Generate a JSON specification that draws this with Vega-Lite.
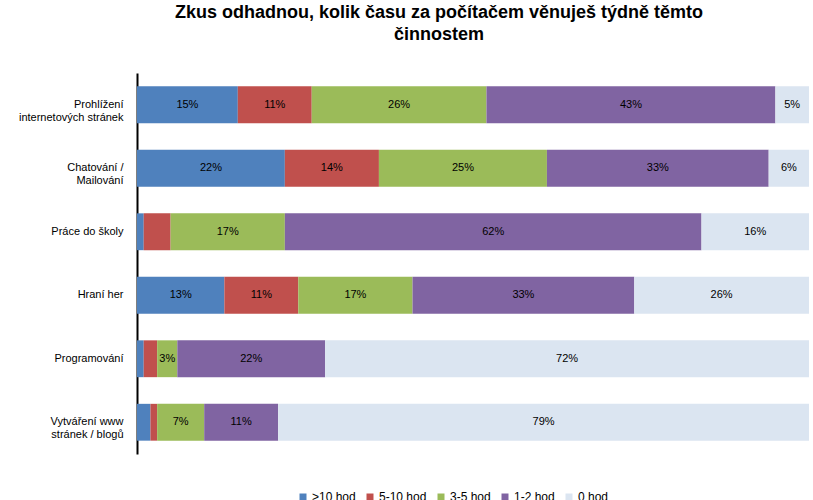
{
  "$schema": "https://vega.github.io/schema/vega-lite/v6.json",
  "width": 672,
  "height": 381,
  "autosize": "none",
  "padding": {"left": 137, "top": 73, "right": 4, "bottom": 46},
  "background": "white",
  "title": {
    "text": ["Zkus odhadnou, kolik času za počítačem věnuješ týdně těmto", "činnostem"],
    "font": "Liberation Sans",
    "fontSize": 18,
    "fontWeight": "bold",
    "color": "black",
    "anchor": "middle",
    "frame": "group",
    "dx": -34,
    "offset": 29,
    "lineHeight": 22
  },
  "data": {
    "values": [
      {"cat": "Prohlížení|internetových stránek", "k": 1, "series": ">10 hod", "value": 15, "label": "15%"},
      {"cat": "Prohlížení|internetových stránek", "k": 2, "series": "5-10 hod", "value": 11, "label": "11%"},
      {"cat": "Prohlížení|internetových stránek", "k": 3, "series": "3-5 hod", "value": 26, "label": "26%"},
      {"cat": "Prohlížení|internetových stránek", "k": 4, "series": "1-2 hod", "value": 43, "label": "43%"},
      {"cat": "Prohlížení|internetových stránek", "k": 5, "series": "0 hod", "value": 5, "label": "5%"},
      {"cat": "Chatování /|Mailování", "k": 1, "series": ">10 hod", "value": 22, "label": "22%"},
      {"cat": "Chatování /|Mailování", "k": 2, "series": "5-10 hod", "value": 14, "label": "14%"},
      {"cat": "Chatování /|Mailování", "k": 3, "series": "3-5 hod", "value": 25, "label": "25%"},
      {"cat": "Chatování /|Mailování", "k": 4, "series": "1-2 hod", "value": 33, "label": "33%"},
      {"cat": "Chatování /|Mailování", "k": 5, "series": "0 hod", "value": 6, "label": "6%"},
      {"cat": "Práce do školy", "k": 1, "series": ">10 hod", "value": 1, "label": ""},
      {"cat": "Práce do školy", "k": 2, "series": "5-10 hod", "value": 4, "label": ""},
      {"cat": "Práce do školy", "k": 3, "series": "3-5 hod", "value": 17, "label": "17%"},
      {"cat": "Práce do školy", "k": 4, "series": "1-2 hod", "value": 62, "label": "62%"},
      {"cat": "Práce do školy", "k": 5, "series": "0 hod", "value": 16, "label": "16%"},
      {"cat": "Hraní her", "k": 1, "series": ">10 hod", "value": 13, "label": "13%"},
      {"cat": "Hraní her", "k": 2, "series": "5-10 hod", "value": 11, "label": "11%"},
      {"cat": "Hraní her", "k": 3, "series": "3-5 hod", "value": 17, "label": "17%"},
      {"cat": "Hraní her", "k": 4, "series": "1-2 hod", "value": 33, "label": "33%"},
      {"cat": "Hraní her", "k": 5, "series": "0 hod", "value": 26, "label": "26%"},
      {"cat": "Programování", "k": 1, "series": ">10 hod", "value": 1, "label": ""},
      {"cat": "Programování", "k": 2, "series": "5-10 hod", "value": 2, "label": ""},
      {"cat": "Programování", "k": 3, "series": "3-5 hod", "value": 3, "label": "3%"},
      {"cat": "Programování", "k": 4, "series": "1-2 hod", "value": 22, "label": "22%"},
      {"cat": "Programování", "k": 5, "series": "0 hod", "value": 72, "label": "72%"},
      {"cat": "Vytváření www|stránek / blogů", "k": 1, "series": ">10 hod", "value": 2, "label": ""},
      {"cat": "Vytváření www|stránek / blogů", "k": 2, "series": "5-10 hod", "value": 1, "label": ""},
      {"cat": "Vytváření www|stránek / blogů", "k": 3, "series": "3-5 hod", "value": 7, "label": "7%"},
      {"cat": "Vytváření www|stránek / blogů", "k": 4, "series": "1-2 hod", "value": 11, "label": "11%"},
      {"cat": "Vytváření www|stránek / blogů", "k": 5, "series": "0 hod", "value": 79, "label": "79%"}
    ]
  },
  "encoding": {
    "y": {
      "field": "cat",
      "type": "nominal",
      "sort": null,
      "scale": {"paddingInner": 0.42, "paddingOuter": 0.21},
      "axis": {
        "title": null,
        "labelExpr": "split(datum.label, '|')",
        "labelFont": "Liberation Sans",
        "labelFontSize": 11,
        "labelColor": "black",
        "labelPadding": 14,
        "labelLineHeight": 13,
        "ticks": false,
        "domainColor": "black",
        "domainWidth": 2,
        "grid": false
      }
    },
    "x": {
      "field": "value",
      "type": "quantitative",
      "stack": "normalize",
      "axis": null,
      "scale": {"domain": [0, 1], "nice": false}
    },
    "order": {"field": "k", "type": "quantitative"}
  },
  "layer": [
    {
      "mark": {"type": "bar"},
      "encoding": {
        "color": {
          "field": "series",
          "type": "nominal",
          "sort": [">10 hod", "5-10 hod", "3-5 hod", "1-2 hod", "0 hod"],
          "scale": {
            "domain": [">10 hod", "5-10 hod", "3-5 hod", "1-2 hod", "0 hod"],
            "range": ["#4F81BD", "#C0504D", "#9BBB59", "#8064A2", "#DBE5F1"]
          },
          "legend": {
            "title": null,
            "orient": "none",
            "direction": "horizontal",
            "legendX": 160,
            "legendY": 418,
            "symbolType": "square",
            "symbolSize": 49,
            "symbolStrokeWidth": 0,
            "labelFont": "Liberation Sans",
            "labelFontSize": 12,
            "labelColor": "black",
            "labelOffset": 3,
            "columnPadding": 8
          }
        }
      }
    },
    {
      "mark": {"type": "text", "font": "Liberation Sans", "fontSize": 11, "color": "black"},
      "encoding": {
        "x": {
          "field": "value",
          "type": "quantitative",
          "stack": "normalize",
          "bandPosition": 0.5
        },
        "text": {"field": "label"}
      }
    }
  ],
  "config": {"view": {"stroke": null}}
}
